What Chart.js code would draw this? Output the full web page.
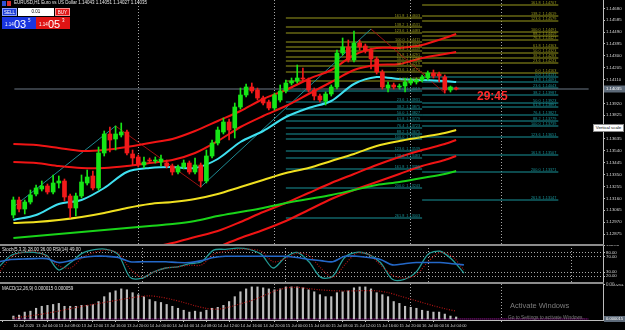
<!DOCTYPE html>
<html>
<head>
<meta charset="utf-8">
<title>EURUSD,H1</title>
<script src="https://cdn.jsdelivr.net/npm/chart.js@4.4.1/dist/chart.umd.min.js"></script>
<style>
    html, body { margin: 0; padding: 0; background: #000; }
    body { width: 625px; height: 330px; position: relative; overflow: hidden; font-family: "Liberation Sans", "DejaVu Sans", sans-serif; color: #fff; }
    canvas { position: absolute; left: 0; display: block; }
    #mainChart { top: 0; }
    #stochChart { top: 245px; }
    #macdChart { top: 284px; }
    .abs { position: absolute; white-space: nowrap; line-height: 1; }
    .sep { position: absolute; left: 0; width: 604px; height: 2px; background: #8c8c8c; }
    .small { font-size: 4.5px; color: #e6e6e6; }
    .btn { position: absolute; top: 8px; height: 8px; font-size: 4.5px; line-height: 8px; text-align: center; box-sizing: border-box; color: #fff; }
    .quote { position: absolute; top: 17px; height: 12px; width: 34px; color: #fff; box-sizing: border-box; }
    .quote .a { position: absolute; left: 3px; bottom: 2px; font-size: 4.5px; }
    .quote .b { position: absolute; left: 12px; top: 1px; font-size: 11px; }
    .quote .c { position: absolute; left: 26px; top: 1px; font-size: 4.5px; }
</style>
</head>
<body>
<canvas id="mainChart" width="625" height="245"></canvas>
<canvas id="stochChart" width="625" height="39"></canvas>
<canvas id="macdChart" width="625" height="46"></canvas>
<div class="sep" style="top:244px"></div>
<div class="sep" style="top:282px"></div>

<div class="abs" style="left:2px;top:1px;width:4px;height:5px;background:#2c4fd6"></div>
<div class="abs" style="left:7px;top:1px;width:4px;height:5px;background:#d63030"></div>
<div class="abs small" id="header" style="left:14px;top:1px"></div>
<div class="btn" style="left:2px;width:15px;background:#1f3fd8;border:1px solid #8aa0ff">SELL</div>
<div class="btn" style="left:18px;width:36px;background:#fff;color:#000">0.01</div>
<div class="btn" style="left:55px;width:15px;background:#e01818;border:1px solid #ff9090">BUY</div>
<div class="quote" style="left:2px;background:#1a35e0"><span class="a" id="bidA"></span><span class="b" id="bidB"></span><span class="c" id="bidC"></span></div>
<div class="quote" style="left:36px;background:#e01414"><span class="a" id="askA"></span><span class="b" id="askB"></span><span class="c" id="askC"></span></div>

<div class="abs" style="left:477px;top:89px;font:bold 12px 'Liberation Sans',sans-serif;color:#ff2a2a">29:45</div>
<div class="abs" style="left:593px;top:124px;width:31px;height:8px;background:#fff;border:1px solid #888;box-sizing:border-box;font-size:4.3px;line-height:6px;color:#000;text-align:center">Vertical scale</div>
<div class="abs small" id="stochTitle" style="left:2px;top:248px"></div>
<div class="abs small" id="macdTitle" style="left:2px;top:287px"></div>
<div class="abs" style="left:510px;top:302px;font-size:7.5px;color:#7c7c7c">Activate Windows</div>
<div class="abs" style="left:508px;top:316px;font-size:4.8px;color:#7c7c7c">Go to Settings to activate Windows.</div>

<script>
// ========================================
// EURUSD H1 - bar 0 = 13 Jul 2020 00:00
// ========================================

const FONT = '"Liberation Sans", "DejaVu Sans", sans-serif';

const openP = [1.13027, 1.13147, 1.13075, 1.13131, 1.13195, 1.13235, 1.13259, 1.13211, 1.13283, 1.13299,
    1.13179, 1.13083, 1.13179, 1.13283, 1.13339, 1.13243, 1.13523, 1.13675, 1.13635, 1.13667,
    1.13691, 1.13515, 1.13491, 1.13427, 1.13467, 1.13459, 1.13451, 1.13443, 1.13419, 1.13371,
    1.13411, 1.13443, 1.13371, 1.13427, 1.13299, 1.13499, 1.13603, 1.13691, 1.13771, 1.13723,
    1.13891, 1.13987, 1.14051, 1.14027, 1.13963, 1.13931, 1.13883, 1.13947, 1.14019, 1.14083,
    1.14099, 1.14123, 1.14107, 1.14027, 1.13979, 1.13939, 1.13995, 1.14051, 1.14323, 1.14371,
    1.14267, 1.14403, 1.14379, 1.14347, 1.14275, 1.14171, 1.14043, 1.14067, 1.14051, 1.14059,
    1.14083, 1.14091, 1.14107, 1.14123, 1.14163, 1.14155, 1.14131, 1.14027, 1.14043];
const highP = [1.13171, 1.13171, 1.13147, 1.13227, 1.13267, 1.13299, 1.13275, 1.13347, 1.13339, 1.13315,
    1.13195, 1.13203, 1.13347, 1.13387, 1.13379, 1.13571, 1.13699, 1.13731, 1.13739, 1.13763,
    1.13707, 1.13547, 1.13507, 1.13491, 1.13483, 1.13491, 1.13507, 1.13467, 1.13435, 1.13427,
    1.13467, 1.13459, 1.13483, 1.13443, 1.13547, 1.13627, 1.13731, 1.13803, 1.13795, 1.13923,
    1.14043, 1.14075, 1.14083, 1.14043, 1.13979, 1.13947, 1.14003, 1.14067, 1.14107, 1.14123,
    1.14227, 1.14203, 1.14123, 1.14043, 1.13995, 1.14011, 1.14067, 1.14347, 1.14443, 1.14427,
    1.14499, 1.14427, 1.14395, 1.14363, 1.14291, 1.14187, 1.14091, 1.14083, 1.14075, 1.14123,
    1.14123, 1.14123, 1.14147, 1.14179, 1.14187, 1.14171, 1.14147, 1.14059, 1.14051];
const lowP = [1.13003, 1.13051, 1.13035, 1.13115, 1.13179, 1.13219, 1.13195, 1.13195, 1.13243, 1.13139,
    1.13003, 1.13019, 1.13163, 1.13267, 1.13227, 1.13227, 1.13499, 1.13531, 1.13547, 1.13651,
    1.13507, 1.13427, 1.13411, 1.13403, 1.13443, 1.13443, 1.13419, 1.13403, 1.13347, 1.13355,
    1.13395, 1.13355, 1.13355, 1.13251, 1.13283, 1.13483, 1.13587, 1.13675, 1.13627, 1.13643,
    1.13875, 1.13971, 1.14003, 1.13947, 1.13907, 1.13867, 1.13867, 1.13931, 1.14003, 1.14067,
    1.14083, 1.14099, 1.14011, 1.13947, 1.13931, 1.13907, 1.13979, 1.14035, 1.14307, 1.14251,
    1.14251, 1.14347, 1.14323, 1.14195, 1.14155, 1.14035, 1.14011, 1.14035, 1.14035, 1.14011,
    1.14067, 1.14075, 1.14091, 1.14107, 1.14123, 1.14091, 1.14003, 1.14011, 1.14027];
const closeP = [1.13147, 1.13075, 1.13131, 1.13187, 1.13243, 1.13259, 1.13211, 1.13283, 1.13299, 1.13171,
    1.13083, 1.13179, 1.13291, 1.13331, 1.13243, 1.13523, 1.13675, 1.13627, 1.13675, 1.13691,
    1.13523, 1.13483, 1.13435, 1.13451, 1.13459, 1.13467, 1.13475, 1.13419, 1.13371, 1.13411,
    1.13443, 1.13371, 1.13427, 1.13299, 1.13499, 1.13603, 1.13707, 1.13771, 1.13707, 1.13891,
    1.13987, 1.14051, 1.14019, 1.13963, 1.13923, 1.13883, 1.13987, 1.14019, 1.14083, 1.14099,
    1.14123, 1.14115, 1.14027, 1.13979, 1.13947, 1.13995, 1.14051, 1.14323, 1.14371, 1.14267,
    1.14403, 1.14371, 1.14339, 1.14275, 1.14171, 1.14051, 1.14067, 1.14051, 1.14059, 1.14091,
    1.14107, 1.14107, 1.14131, 1.14163, 1.14139, 1.14139, 1.14027, 1.14051, 1.14035];

const bidPrice = 1.14035;
const askPrice = 1.14053;

// moving averages / envelopes (read every 4 bars)
const lineIdx = [0, 4, 8, 12, 16, 20, 24, 28, 32, 36, 40, 44, 48, 52, 56, 60, 64, 68, 72, 76, 78];
const maCyan = [1.12987, 1.13027, 1.13115, 1.13147, 1.13243, 1.13371, 1.13403, 1.13411, 1.13403, 1.13475, 1.13611,
    1.13699, 1.13811, 1.13883, 1.13939, 1.14075, 1.14131, 1.14115, 1.14107, 1.14099, 1.14091];
const envUpper = [1.13595, 1.13587, 1.13563, 1.13539, 1.13547, 1.13571, 1.13603, 1.13635, 1.13699, 1.13779, 1.13859,
    1.13955, 1.14027, 1.14115, 1.14187, 1.14307, 1.14363, 1.14363, 1.14387, 1.14443, 1.14475];
const envLower = [1.13451, 1.13443, 1.13419, 1.13403, 1.13403, 1.13419, 1.13443, 1.13467, 1.13523, 1.13619, 1.13731,
    1.13819, 1.13899, 1.13995, 1.14091, 1.14187, 1.14227, 1.14235, 1.14283, 1.14315, 1.14331];
const maYellow = [1.12963, 1.12971, 1.12987, 1.13011, 1.13043, 1.13083, 1.13115, 1.13131, 1.13155, 1.13195, 1.13251,
    1.13307, 1.13363, 1.13403, 1.13459, 1.13515, 1.13579, 1.13619, 1.13651, 1.13683, 1.13707];
const maGreen = [1.12843, 1.12859, 1.12875, 1.12891, 1.12907, 1.12923, 1.12939, 1.12955, 1.12979, 1.13019, 1.13051,
    1.13083, 1.13123, 1.13155, 1.13187, 1.13227, 1.13267, 1.13291, 1.13323, 1.13355, 1.13379];
const bandAIdx = [24, 28, 32, 36, 40, 44, 48, 52, 56, 60, 64, 68, 72, 76, 78];
const bandA = [1.12763, 1.12803, 1.12851, 1.12899, 1.12971, 1.13051, 1.13123, 1.13203, 1.13283, 1.13355, 1.13427,
    1.13491, 1.13547, 1.13595, 1.13627];
const bandBIdx = [36, 40, 44, 48, 52, 56, 60, 64, 68, 72, 76, 78];
const bandB = [1.12771, 1.12843, 1.12907, 1.12979, 1.13067, 1.13155, 1.13227, 1.13291, 1.13355, 1.13419, 1.13467, 1.13499];

// zigzag
const zigIdx = [0, 18, 33, 63, 76];
const zigPrice = [1.13091, 1.13739, 1.13251, 1.14515, 1.14003];

// fibo levels, 15 Jul (bars 48-72) and 16 Jul (bars 72-96)
const fibRatiosUp = [161.8, 138.2, 123.6, 100.0, 88.2, 76.4, 61.8, 50.0, 38.2, 23.6, 0.0];
const fibLeftUp = [1.14603, 1.14531, 1.14483, 1.14411, 1.14371, 1.14339, 1.14291, 1.14259, 1.14219, 1.14171, 1.14099];
const fibRightUp = [1.14707, 1.14619, 1.14579, 1.14491, 1.14459, 1.14427, 1.14363, 1.14323, 1.14283, 1.14243, 1.14163];
const fibLeftDnRatios = [0.0, 23.6, 38.2, 50.0, 61.8, 76.4, 88.2, 100.0, 123.6, 138.2, 161.8, 200.0, 261.8];
const fibLeftDn = [1.14019, 1.13931, 1.13875, 1.13827, 1.13779, 1.13723, 1.13675, 1.13635, 1.13539, 1.13483, 1.13395, 1.13243, 1.13003];
const fibRightDnRatios = [0.0, 11.8, 23.6, 38.2, 50.0, 61.8, 76.4, 88.2, 100.0, 123.6, 161.8, 200.0, 261.8];
const fibRightDn = [1.14131, 1.14091, 1.14043, 1.13987, 1.13923, 1.13891, 1.13827, 1.13779, 1.13739, 1.13651, 1.13507, 1.13371, 1.13147];

// oscillators (read every 2 bars)
const oscIdx = [0, 2, 4, 6, 8, 10, 12, 14, 16, 18, 20, 22, 24, 26, 28, 30, 32, 34, 36, 38,
    40, 42, 44, 46, 48, 50, 52, 54, 56, 58, 60, 62, 64, 66, 68, 70, 72, 74, 76, 78];
const stochMain = [44, 73, 81, 81, 73, 36, 55, 79, 88, 89, 76, 17, 15, 31, 41, 44, 52, 57, 87, 89,
    92, 89, 76, 41, 68, 81, 57, 17, 20, 68, 81, 76, 55, 12, 12, 31, 76, 84, 63, 28];
const stochSignal = [28, 68, 81, 84, 71, 47, 41, 68, 81, 87, 79, 39, 17, 31, 41, 44, 48, 49, 76, 84,
    89, 89, 84, 57, 65, 79, 73, 41, 17, 49, 79, 76, 49, 23, 15, 23, 57, 81, 71, 36];
const rsiLine = [57, 63, 64, 65, 65, 55, 60, 68, 71, 71, 68, 57, 57, 57, 57, 55, 55, 60, 68, 71,
    71, 71, 71, 71, 71, 68, 63, 60, 57, 71, 71, 68, 63, 49, 52, 55, 55, 55, 52, 49];

const macdHist = [0.000022, 0.000029, 0.000052, 0.000059, 0.000081, 0.000096, 0.000103, 0.000110, 0.000118, 0.000096,
    0.000096, 0.000096, 0.000103, 0.000103, 0.000110, 0.000132, 0.000169, 0.000199, 0.000213, 0.000228,
    0.000221, 0.000199, 0.000184, 0.000169, 0.000147, 0.000132, 0.000125, 0.000110, 0.000096, 0.000081,
    0.000066, 0.000052, 0.000059, 0.000052, 0.000066, 0.000081, 0.000088, 0.000103, 0.000132, 0.000169,
    0.000206, 0.000228, 0.000243, 0.000243, 0.000236, 0.000228, 0.000221, 0.000228, 0.000243, 0.000243,
    0.000243, 0.000236, 0.000221, 0.000206, 0.000184, 0.000169, 0.000169, 0.000199, 0.000206, 0.000213,
    0.000236, 0.000243, 0.000243, 0.000228, 0.000199, 0.000184, 0.000169, 0.000132, 0.000118, 0.000096,
    0.000088, 0.000081, 0.000066, 0.000059, 0.000052, 0.000052, 0.000037, 0.000022, 0.000015];
const macdSignal = [0.000007, 0.000018, 0.000030, 0.000044, 0.000060, 0.000078, 0.000095, 0.000110, 0.000125, 0.000140,
    0.000155, 0.000168, 0.000175, 0.000165, 0.000147, 0.000125, 0.000100, 0.000080, 0.000074, 0.000090,
    0.000115, 0.000140, 0.000175, 0.000210, 0.000235, 0.000240, 0.000230, 0.000221, 0.000215, 0.000212,
    0.000213, 0.000215, 0.000213, 0.000200, 0.000175, 0.000150, 0.000125, 0.000100, 0.000078, 0.000059];

// axis ticks
const priceTicks = [1.14680, 1.14585, 1.14490, 1.14395, 1.14300, 1.14205, 1.14110, 1.13920, 1.13825, 1.13730,
    1.13635, 1.13540, 1.13445, 1.13350, 1.13255, 1.13160, 1.13065, 1.12970, 1.12875];
const stochTicks = [100, 80, 70, 30, 20, 0];
const stochLevels = [80, 70, 30, 20];
const macdTicks = [0.000261];
const timeIdx = [0, 4, 8, 12, 16, 20, 24, 28, 32, 36, 40, 44, 48, 52, 56, 60, 64, 68, 72, 76];
const timeLabels = ['10 Jul 2020', '13 Jul 04:00', '13 Jul 08:00', '13 Jul 12:00', '13 Jul 16:00', '13 Jul 20:00',
    '14 Jul 00:00', '14 Jul 04:00', '14 Jul 08:00', '14 Jul 12:00', '14 Jul 16:00', '14 Jul 20:00',
    '15 Jul 00:00', '15 Jul 04:00', '15 Jul 08:00', '15 Jul 12:00', '15 Jul 16:00', '15 Jul 20:00',
    '16 Jul 00:00', '16 Jul 04:00'];
const dayIdx = [24, 48, 72, 96];

// view window
const xMin = 0.17, xMax = 101.34;
const yMin = 1.12787, yMax = 1.14747;

const OLIVE = '#9a9a1c';
const TEAL = '#18949a';

// ---------- helpers ----------
function pts(idx, vals) {
    return idx.map((k, i) => ({ x: k, y: vals[i] }));
}

function fibData(prices, x0, x1) {
    const out = [];
    prices.forEach(p => out.push({ x: x0, y: p }, { x: x1, y: p }, { x: x1, y: null }));
    return out;
}

function line(data, color, width, extra) {
    return Object.assign({
        type: 'line', data, borderColor: color, borderWidth: width,
        pointRadius: 0, fill: false, tension: 0, spanGaps: false, order: 3
    }, extra || {});
}

const fibSets = [
    { x0: 48, x1: 72, ratios: fibRatiosUp, prices: fibLeftUp, color: OLIVE },
    { x0: 48, x1: 72, ratios: fibLeftDnRatios, prices: fibLeftDn, color: TEAL },
    { x0: 72, x1: 96, ratios: fibRatiosUp, prices: fibRightUp, color: OLIVE },
    { x0: 72, x1: 96, ratios: fibRightDnRatios, prices: fibRightDn, color: TEAL }
];

const gridIdx = timeIdx.concat([96]);

function timeAxis(withLabels) {
    return {
        type: 'linear', min: xMin, max: xMax,
        afterBuildTicks: s => { s.ticks = gridIdx.map(v => ({ value: v })); },
        afterFit: s => { s.paddingLeft = 0; s.paddingRight = 0; s.height = withLabels ? 10 : 0; },
        grid: {
            color: c => (c.tick && dayIdx.includes(c.tick.value)) ? '#a6a6a6' : 'rgba(0,0,0,0)',
            lineWidth: 1, drawTicks: withLabels, tickLength: 2, tickColor: '#bdbdbd'
        },
        border: { display: withLabels, color: '#bdbdbd', dash: [1, 2] },
        ticks: {
            display: withLabels, autoSkip: false, maxRotation: 0, align: 'start', padding: 1,
            color: '#cfcfcf', font: { size: 4, family: FONT },
            callback: v => { const i = timeIdx.indexOf(v); return i < 0 ? '' : timeLabels[i]; }
        }
    };
}

function valueAxis(min, max, tickList, fmt, gridColor) {
    return {
        position: 'right', min, max,
        afterBuildTicks: s => { s.ticks = tickList.map(v => ({ value: v })); },
        afterFit: s => { s.width = 22; s.paddingTop = 0; s.paddingBottom = 0; },
        grid: { color: gridColor || 'rgba(0,0,0,0)', drawOnChartArea: !!gridColor, tickLength: 2, tickColor: '#bdbdbd' },
        border: { color: '#bdbdbd', dash: [1, 2] },
        ticks: { autoSkip: false, color: '#d6d6d6', padding: 1, font: { size: 4.3, family: FONT }, callback: fmt }
    };
}

const baseOptions = {
    responsive: false, animation: false, events: [],
    layout: { padding: 0 },
    plugins: { legend: { display: false }, tooltip: { enabled: false } }
};

// ---------- main price chart ----------
const candleColors = closeP.map((c, i) => c >= openP[i] ? '#16e616' : '#f21a1a');

const mainDecor = {
    id: 'mainDecor',
    afterDraw(chart) {
        const { ctx, chartArea, scales: { x, y } } = chart;
        ctx.save();
        ctx.font = '3.8px ' + FONT;
        ctx.textAlign = 'right';
        ctx.textBaseline = 'bottom';
        fibSets.forEach(f => {
            ctx.fillStyle = f.color;
            const xr = x.getPixelForValue(f.x1) - 2;
            f.prices.forEach((p, i) => {
                ctx.fillText(f.ratios[i].toFixed(1) + '  ' + p.toFixed(5), xr, y.getPixelForValue(p) - 0.3);
            });
        });
        const yb = Math.round(y.getPixelForValue(bidPrice));
        ctx.fillStyle = '#5d6a79';
        ctx.fillRect(chartArea.right + 1, yb - 3.5, 22, 7);
        ctx.fillStyle = '#ffffff';
        ctx.textAlign = 'left';
        ctx.textBaseline = 'middle';
        ctx.font = '4.3px ' + FONT;
        ctx.fillText(bidPrice.toFixed(5), chartArea.right + 3, yb);
        ctx.restore();
    }
};

new Chart(document.getElementById('mainChart'), {
    type: 'bar',
    data: {
        datasets: [
            line(fibData(fibLeftUp, 48, 72), OLIVE, 1, { order: 6 }),
            line(fibData(fibLeftDn, 48, 72), TEAL, 1, { order: 6 }),
            line(fibData(fibRightUp, 72, 96), OLIVE, 1, { order: 6 }),
            line(fibData(fibRightDn, 72, 96), TEAL, 1, { order: 6 }),
            line([{ x: xMin, y: bidPrice }, { x: xMax, y: bidPrice }], '#6c7886', 1, { order: 5 }),
            line(pts(zigIdx, zigPrice), '#1d8a93', 1, {
                order: 4,
                segment: { borderColor: c => c.p1.parsed.y > c.p0.parsed.y ? '#1d8a93' : '#9a1111' }
            }),
            line(pts(lineIdx, maGreen), '#19d419', 2, { tension: 0.3 }),
            line(pts(lineIdx, maYellow), '#f0e020', 2, { tension: 0.3 }),
            line(pts(bandAIdx, bandA), '#f01414', 2, { tension: 0.3 }),
            line(pts(bandBIdx, bandB), '#f01414', 2, { tension: 0.3 }),
            line(pts(lineIdx, envUpper), '#f01414', 2, { tension: 0.3 }),
            line(pts(lineIdx, envLower), '#f01414', 2, { tension: 0.3 }),
            line(pts(lineIdx, maCyan), '#3fe0f0', 2, { tension: 0.3 }),
            {
                type: 'bar', order: 1, grouped: false,
                data: highP.map((h, i) => ({ x: i, y: [lowP[i], h] })),
                backgroundColor: candleColors, borderWidth: 0, barThickness: 1, maxBarThickness: 1
            },
            {
                type: 'bar', order: 0, grouped: false,
                data: closeP.map((c, i) => ({ x: i, y: [openP[i], c] })),
                backgroundColor: candleColors, borderWidth: 0, barThickness: 4, maxBarThickness: 4, minBarLength: 1
            }
        ]
    },
    options: Object.assign({}, baseOptions, {
        scales: {
            x: timeAxis(false),
            y: valueAxis(yMin, yMax, priceTicks, v => v.toFixed(5))
        }
    }),
    plugins: [mainDecor]
});

// ---------- stochastic panel ----------
new Chart(document.getElementById('stochChart'), {
    type: 'line',
    data: {
        datasets: [
            line(pts(oscIdx, rsiLine), '#2468c8', 1.6, { tension: 0.3 }),
            line(pts(oscIdx, stochSignal), '#b01414', 1.2, { tension: 0.3, borderDash: [1, 1.5] }),
            line(pts(oscIdx, stochMain), '#239a95', 1.3, { tension: 0.3 })
        ]
    },
    options: Object.assign({}, baseOptions, {
        scales: {
            x: timeAxis(false),
            y: valueAxis(0, 100, stochTicks, v => v.toFixed(2),
                c => (c.tick && stochLevels.includes(c.tick.value)) ? '#a8a8a8' : 'rgba(0,0,0,0)')
        }
    })
});

// ---------- MACD panel ----------
const macdDecor = {
    id: 'macdDecor',
    afterDraw(chart) {
        const { ctx, chartArea } = chart;
        const last = macdHist[macdHist.length - 1];
        ctx.save();
        ctx.fillStyle = '#5d6a79';
        ctx.fillRect(chartArea.right + 1, chartArea.bottom - 4, 22, 6);
        ctx.fillStyle = '#ffffff';
        ctx.font = '4.1px ' + FONT;
        ctx.textBaseline = 'middle';
        ctx.fillText(last.toFixed(6), chartArea.right + 3, chartArea.bottom - 1);
        ctx.restore();
    }
};

new Chart(document.getElementById('macdChart'), {
    type: 'bar',
    data: {
        datasets: [
            line([{ x: xMin, y: 0 }, { x: xMax, y: 0 }], '#d21ed2', 1, { borderDash: [1, 1], order: 5 }),
            line(pts(oscIdx, macdSignal), '#b01414', 1.2, { tension: 0.3, borderDash: [1, 1.5], order: 1 }),
            {
                type: 'bar', order: 2,
                data: macdHist.map((v, i) => ({ x: i, y: v })),
                backgroundColor: '#bdbdbd', borderWidth: 0, barThickness: 1.5, maxBarThickness: 1.5
            }
        ]
    },
    options: Object.assign({}, baseOptions, {
        scales: {
            x: timeAxis(true),
            y: valueAxis(-0.000008, 0.000265, macdTicks, v => v.toFixed(6))
        }
    }),
    plugins: [macdDecor]
});

// ---------- text panels ----------
const n = closeP.length - 1;
document.getElementById('header').textContent =
    'EURUSD,H1  Euro vs US Dollar  ' + [openP[n], highP[n], lowP[n], closeP[n]].map(v => v.toFixed(5)).join(' ');

function splitQuote(p, prefix) {
    const s = p.toFixed(5);
    document.getElementById(prefix + 'A').textContent = s.slice(0, 4);
    document.getElementById(prefix + 'B').textContent = s.slice(4, 6);
    document.getElementById(prefix + 'C').textContent = s.slice(6);
}
splitQuote(bidPrice, 'bid');
splitQuote(askPrice, 'ask');

document.getElementById('stochTitle').textContent =
    'Stoch(5,3,3) ' + stochMain[stochMain.length - 1].toFixed(2) + ' ' + stochSignal[stochSignal.length - 1].toFixed(2) +
    '  RSI(14) ' + rsiLine[rsiLine.length - 1].toFixed(2);
document.getElementById('macdTitle').textContent =
    'MACD(12,26,9) ' + macdHist[n].toFixed(6) + ' ' + macdSignal[macdSignal.length - 1].toFixed(6);
</script>
</body>
</html>
